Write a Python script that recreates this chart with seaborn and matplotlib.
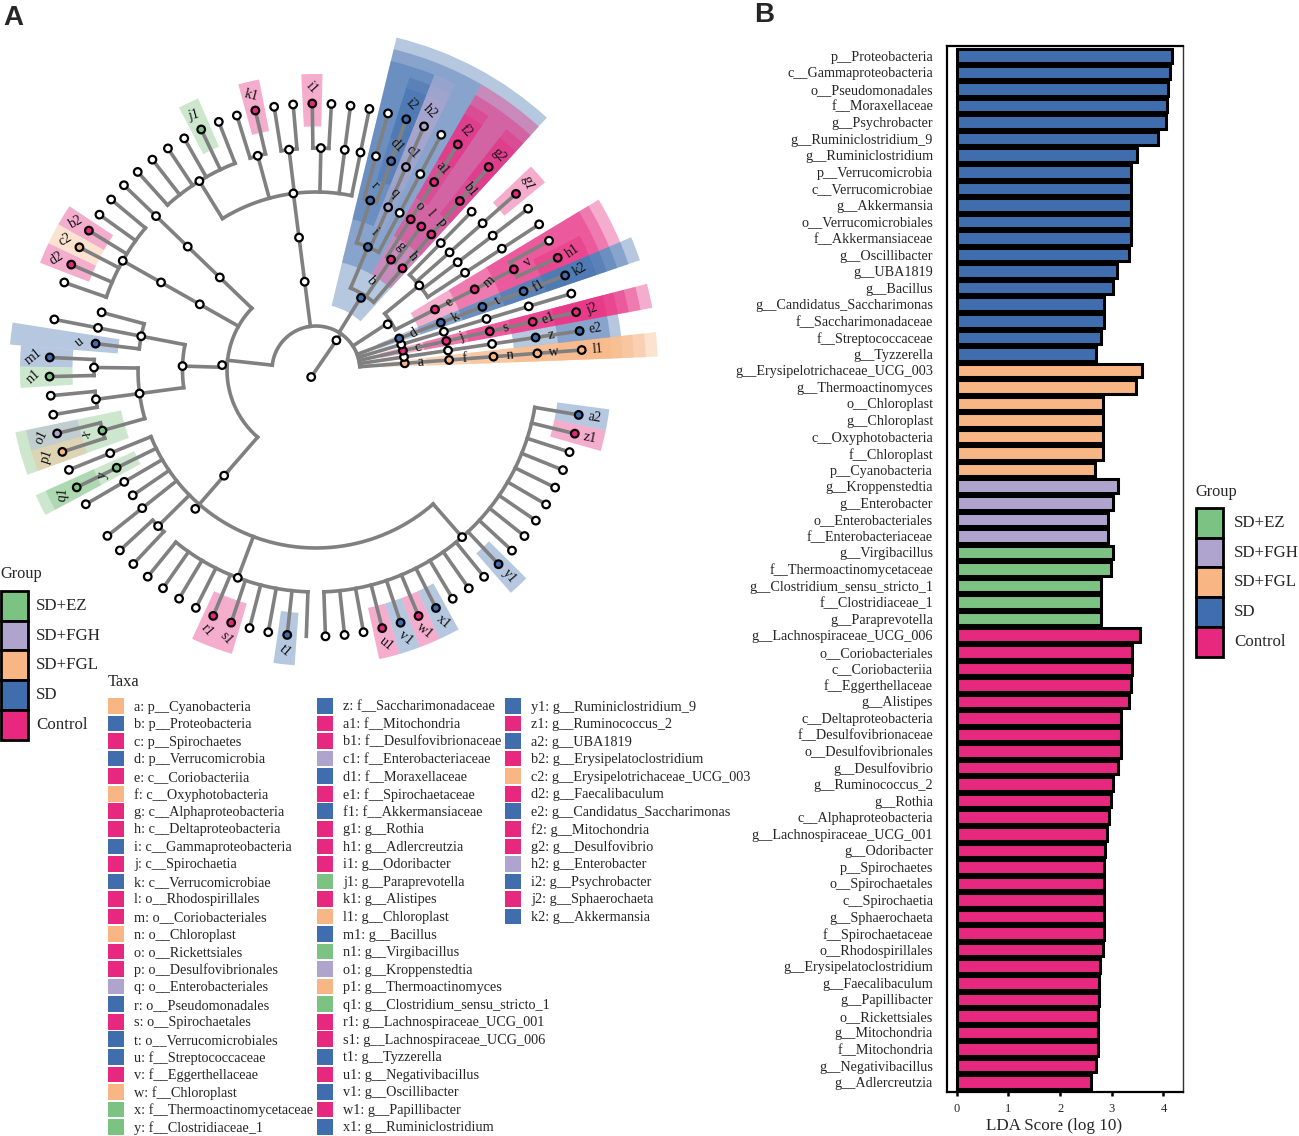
import numpy as np
import pandas as pd
import seaborn as sns
import matplotlib
matplotlib.use("Agg")
import matplotlib.pyplot as plt
from matplotlib.patches import Rectangle

sns.set_theme(style="white")
plt.rcParams["font.family"] = ["Liberation Serif", "DejaVu Serif"]

# groups
group_names = ["SD+EZ", "SD+FGH", "SD+FGL", "SD", "Control"]
group_colors = ["#7CC283", "#AFA4CE", "#F7B683", "#3F6DAE", "#E6287F"]
palette = dict(zip(group_names, group_colors))

# panel B
taxa_sd = ["p__Proteobacteria", "c__Gammaproteobacteria", "o__Pseudomonadales", "f__Moraxellaceae",
           "g__Psychrobacter", "g__Ruminiclostridium_9", "g__Ruminiclostridium", "p__Verrucomicrobia",
           "c__Verrucomicrobiae", "g__Akkermansia", "o__Verrucomicrobiales", "f__Akkermansiaceae",
           "g__Oscillibacter", "g__UBA1819", "g__Bacillus", "g__Candidatus_Saccharimonas",
           "f__Saccharimonadaceae", "f__Streptococcaceae", "g__Tyzzerella"]
scores_sd = [4.17, 4.13, 4.09, 4.07, 4.05, 3.90, 3.49, 3.37, 3.37, 3.37, 3.37, 3.37, 3.33, 3.10, 3.02,
             2.85, 2.85, 2.79, 2.69]
taxa_fgl = ["g__Erysipelotrichaceae_UCG_003", "g__Thermoactinomyces", "o__Chloroplast", "g__Chloroplast",
            "c__Oxyphotobacteria", "f__Chloroplast", "p__Cyanobacteria"]
scores_fgl = [3.58, 3.47, 2.83, 2.83, 2.83, 2.83, 2.67]
taxa_fgh = ["g__Kroppenstedtia", "g__Enterobacter", "o__Enterobacteriales", "f__Enterobacteriaceae"]
scores_fgh = [3.12, 3.03, 2.93, 2.92]
taxa_ez = ["g__Virgibacillus", "f__Thermoactinomycetaceae", "g__Clostridium_sensu_stricto_1",
           "f__Clostridiaceae_1", "g__Paraprevotella"]
scores_ez = [3.02, 2.98, 2.79, 2.79, 2.79]
taxa_ctrl = ["g__Lachnospiraceae_UCG_006", "o__Coriobacteriales", "c__Coriobacteriia", "f__Eggerthellaceae",
             "g__Alistipes", "c__Deltaproteobacteria", "f__Desulfovibrionaceae", "o__Desulfovibrionales",
             "g__Desulfovibrio", "g__Ruminococcus_2", "g__Rothia", "c__Alphaproteobacteria",
             "g__Lachnospiraceae_UCG_001", "g__Odoribacter", "p__Spirochaetes", "o__Spirochaetales",
             "c__Spirochaetia", "g__Sphaerochaeta", "f__Spirochaetaceae", "o__Rhodospirillales",
             "g__Erysipelatoclostridium", "g__Faecalibaculum", "g__Papillibacter", "o__Rickettsiales",
             "g__Mitochondria", "f__Mitochondria", "g__Negativibacillus", "g__Adlercreutzia"]
scores_ctrl = [3.54, 3.39, 3.39, 3.37, 3.34, 3.17, 3.17, 3.17, 3.12, 3.03, 2.99, 2.95, 2.91, 2.86, 2.85,
               2.85, 2.85, 2.85, 2.85, 2.84, 2.78, 2.76, 2.76, 2.74, 2.74, 2.74, 2.69, 2.59]

# panel A key
key_codes = ["a", "b", "c", "d", "e", "f", "g", "h", "i", "j", "k", "l", "m", "n", "o", "p", "q", "r", "s",
             "t", "u", "v", "w", "x", "y", "z", "a1", "b1", "c1", "d1", "e1", "f1", "g1", "h1", "i1", "j1",
             "k1", "l1", "m1", "n1", "o1", "p1", "q1", "r1", "s1", "t1", "u1", "v1", "w1", "x1", "y1", "z1",
             "a2", "b2", "c2", "d2", "e2", "f2", "g2", "h2", "i2", "j2", "k2"]
key_taxa = ["p__Cyanobacteria", "p__Proteobacteria", "p__Spirochaetes", "p__Verrucomicrobia", "c__Coriobacteriia",
            "c__Oxyphotobacteria", "c__Alphaproteobacteria", "c__Deltaproteobacteria", "c__Gammaproteobacteria",
            "c__Spirochaetia", "c__Verrucomicrobiae", "o__Rhodospirillales", "o__Coriobacteriales", "o__Chloroplast",
            "o__Rickettsiales", "o__Desulfovibrionales", "o__Enterobacteriales", "o__Pseudomonadales",
            "o__Spirochaetales", "o__Verrucomicrobiales", "f__Streptococcaceae", "f__Eggerthellaceae", "f__Chloroplast",
            "f__Thermoactinomycetaceae", "f__Clostridiaceae_1", "f__Saccharimonadaceae", "f__Mitochondria",
            "f__Desulfovibrionaceae", "f__Enterobacteriaceae", "f__Moraxellaceae", "f__Spirochaetaceae",
            "f__Akkermansiaceae", "g__Rothia", "g__Adlercreutzia", "g__Odoribacter", "g__Paraprevotella", "g__Alistipes",
            "g__Chloroplast", "g__Bacillus", "g__Virgibacillus", "g__Kroppenstedtia", "g__Thermoactinomyces",
            "g__Clostridium_sensu_stricto_1", "g__Lachnospiraceae_UCG_001", "g__Lachnospiraceae_UCG_006", "g__Tyzzerella",
            "g__Negativibacillus", "g__Oscillibacter", "g__Papillibacter", "g__Ruminiclostridium",
            "g__Ruminiclostridium_9", "g__Ruminococcus_2", "g__UBA1819", "g__Erysipelatoclostridium",
            "g__Erysipelotrichaceae_UCG_003", "g__Faecalibaculum", "g__Candidatus_Saccharimonas", "g__Mitochondria",
            "g__Desulfovibrio", "g__Enterobacter", "g__Psychrobacter", "g__Sphaerochaeta", "g__Akkermansia"]
key_groups = ["SD+FGL", "SD", "Control", "SD", "Control", "SD+FGL", "Control", "Control", "SD", "Control", "SD",
              "Control", "Control", "SD+FGL", "Control", "Control", "SD+FGH", "SD", "Control", "SD", "SD", "Control",
              "SD+FGL", "SD+EZ", "SD+EZ", "SD", "Control", "Control", "SD+FGH", "SD", "Control", "SD", "Control",
              "Control", "Control", "SD+EZ", "Control", "SD+FGL", "SD", "SD+EZ", "SD+FGH", "SD+FGL", "SD+EZ", "Control",
              "Control", "SD", "Control", "SD", "Control", "SD", "SD", "Control", "SD", "Control", "SD+FGL", "Control",
              "SD", "Control", "Control", "SD+FGH", "SD", "Control", "SD"]
code_group = dict(zip(key_codes, key_groups))


# tree: (label, children), "" = no label, "-" = tip drawn without a dot, "_x" = unlabelled node with a fix below
def chain(*labels):
    node = (labels[-1], [])
    for lab in reversed(labels[:-1]):
        node = (lab, [node])
    return node


def tips(*labels):
    return [(lab, []) for lab in labels]


phylum_a = chain("a", "f", "n", "w", "l1")
phylum_sacch = chain("", "", "", "z", "e2")
phylum_c = chain("c", "j", "s", "e1", "j2")
phylum_plain = chain("", "", "", "", "")
phylum_d = chain("d", "k", "t", "f1", "k2")
phylum_actino = ("_pa", [
    ("e", [("m", [("v", tips("h1", ""))])]),
    ("", [chain("", "", ""), chain("", "", ""), chain("", "", "g1"), chain("", "")]),
])
phylum_b = ("b", [
    chain("h", "p", "b1", "g2"),
    ("g", [chain("l"), chain("o", "a1", "f2")]),
    ("i", [chain("", "", ""), chain("q", "c1", "h2"),
           ("r", [chain("d1", "i2"), chain("", "")])]),
])
phylum_top = ("_p8", [("_c8", [("_o8", [
    chain("", ""), chain("", ""), ("", tips("", "i1")), ("", tips("", "")), ("", tips("k1", "")),
    ("", tips("", "j1", "", "", "", "")),
])])])
phylum_big = ("_p9", [
    chain("", "", "", ""),
    ("", [("", [("", tips("", "", "b2", "c2", "d2", ""))])]),
    ("", [
        ("", [chain(""), chain("", ""), chain("u")]),
        ("", [("", tips("m1", "n1")), ("", tips("", "")), ("x", tips("o1", "p1"))]),
    ]),
    ("_c9", [("_o9", [
        chain("", ""), chain("y", "q1"), chain("", ""), chain(""), chain("", ""),
        ("", tips("", "")),
        ("", tips("", "", "", "", "r1", "s1", "", "", "t1", "-")),
        ("", tips("", "", "", "u1", "v1", "w1", "x1", "", "", "", "y1", "", "", "", "", "", "", "", "z1", "a2")),
    ])]),
])
phyla = [phylum_a, phylum_sacch, phylum_c, phylum_plain, phylum_d, phylum_actino, phylum_b, phylum_top, phylum_big]

# layout of the cladogram (pixels around the centre, degrees)
center_x, center_y = 316, 370
R_MAX = 360
level_r = {1: 44, 2: 89, 3: 133.5, 4: 178, 5: 222, 6: 266.5}
shade_out = {2: 342, 3: 330, 4: 318, 5: 307, 6: 296}
first_tip = 4.3
tip_step = 4.119
stem_angle = 55.5
angle_fix = {"_p8": 97.3, "_c8": 97.3, "_o8": 97.3, "_p9": 173.7, "_c9": 229, "_o9": 229}
dot_fix = {"_p9": (177, 94), "_c9": (229, 140), "_o9": (229, 184), "_pa": (32.5, 85), "b": (58, 85)}

nodes = []
tip_count = 0


def place(node, level):
    global tip_count
    label, kids = node
    rec = {"label": label, "level": level, "kids": []}
    nodes.append(rec)
    if not kids:
        rec["angle"] = first_tip + tip_step * tip_count
        rec["lo"] = rec["hi"] = rec["angle"]
        tip_count += 1
        return rec
    rec["kids"] = [place(k, level + 1) for k in kids]
    rec["angle"] = (rec["kids"][0]["angle"] + rec["kids"][-1]["angle"]) / 2
    rec["angle"] = angle_fix.get(label, rec["angle"])
    rec["lo"] = rec["kids"][0]["lo"]
    rec["hi"] = rec["kids"][-1]["hi"]
    return rec


tops = [place(p, 2) for p in phyla]

fig = plt.figure(figsize=(12.99, 11.36), dpi=100, facecolor="white")

ax = fig.add_axes([(center_x - R_MAX) / 1299, 1 - (center_y + R_MAX) / 1136, 2 * R_MAX / 1299, 2 * R_MAX / 1136],
                  projection="polar")
ax.patch.set_alpha(0)

# shaded clades
for rec in nodes:
    group = code_group.get(rec["label"])
    if group is None:
        continue
    inner = level_r[rec["level"]] - 23
    outer = shade_out[rec["level"]]
    mid = (rec["lo"] + rec["hi"]) / 2
    ax.bar(np.radians(mid), outer - inner, width=np.radians(rec["hi"] - rec["lo"] + tip_step), bottom=inner,
           color=palette[group], alpha=0.38, linewidth=0, zorder=1)

# branches
line_kw = dict(color="#808080", lw=2.6, solid_capstyle="projecting", zorder=2)


def draw_arc(a0, a1, r):
    th = np.radians(np.linspace(a0, a1, 200))
    ax.plot(th, np.full_like(th, r), **line_kw)


def draw_stem(angle, r0, r1):
    ax.plot(np.radians([angle, angle]), [r0, r1], **line_kw)


for rec in nodes:
    if not rec["kids"]:
        continue
    r = level_r[rec["level"]]
    draw_arc(rec["kids"][0]["angle"], rec["kids"][-1]["angle"], r)
    for kid in rec["kids"]:
        draw_stem(kid["angle"], r, level_r[kid["level"]])

draw_arc(tops[0]["angle"], tops[-1]["angle"], level_r[1])
for top in tops:
    draw_stem(top["angle"], level_r[1], level_r[2])
ax.plot(np.radians([stem_angle + 180, stem_angle]), [8.5, level_r[1]], **line_kw)

# node dots
dot_theta = [np.radians(stem_angle + 180), np.radians(stem_angle)]
dot_r = [8.5, 36]
dot_group = ["none", "none"]
for rec in nodes:
    if rec["label"] == "-":
        continue
    a, r = dot_fix.get(rec["label"], (rec["angle"], level_r[rec["level"]]))
    dot_theta.append(np.radians(a))
    dot_r.append(r)
    dot_group.append(code_group.get(rec["label"], "none"))
sns.scatterplot(x=dot_theta, y=dot_r, hue=dot_group, palette={**palette, "none": "white"}, s=30,
                edgecolor="black", linewidth=1.6, legend=False, ax=ax, zorder=3, clip_on=False)

# clade labels
rot_at = [0, 8, 14, 25, 35, 41, 49, 66, 90, 103, 115, 150, 180, 197, 206, 247, 264, 296, 313, 346, 360]
rot_deg = [0, 8, 25, 35, 70, 105, 130, 135, 130, 165, 195, 210, 220, 250, 265, 310, 320, 320, 310, 348, 360]
for rec in nodes:
    if rec["label"] not in code_group:
        continue
    rot = (np.interp(rec["angle"], rot_at, rot_deg) + 90) % 180 - 90
    ax.text(np.radians(rec["angle"]), level_r[rec["level"]] + 16, rec["label"], rotation=rot, ha="center",
            va="center", rotation_mode="anchor", fontsize=10, color="#111111", zorder=4)

ax.set_rlim(0, R_MAX)
ax.axis("off")

# panel B
bar_taxa = taxa_sd + taxa_fgl + taxa_fgh + taxa_ez + taxa_ctrl
bar_scores = scores_sd + scores_fgl + scores_fgh + scores_ez + scores_ctrl
bar_groups = (["SD"] * len(taxa_sd) + ["SD+FGL"] * len(taxa_fgl) + ["SD+FGH"] * len(taxa_fgh)
              + ["SD+EZ"] * len(taxa_ez) + ["Control"] * len(taxa_ctrl))
bar_df = pd.DataFrame({"taxon": bar_taxa, "score": bar_scores, "group": bar_groups})

axb = fig.add_axes([947 / 1299, 1 - 1092 / 1136, (1183 - 947) / 1299, (1092 - 46) / 1136])
sns.barplot(data=bar_df, y="taxon", x="score", hue="group", palette=palette, dodge=False, width=0.82,
            saturation=1, edgecolor="black", linewidth=2.2, legend=False, ax=axb)
axb.set_xlim(-0.19, 4.38)
axb.set_ylim(len(bar_taxa) - 0.4, -0.6)
axb.set_xticks([0, 1, 2, 3, 4])
axb.set_ylabel("")
axb.set_xlabel("LDA Score (log 10)", fontsize=12.3, va="center")
axb.xaxis.set_label_coords(0.453, -0.0325)
axb.tick_params(axis="y", length=3, width=1.8, color="black", labelsize=10.2, pad=7)
axb.tick_params(axis="x", length=3, width=1.8, color="black", labelsize=9, pad=5, bottom=True)
for side in ["left", "top", "bottom"]:
    axb.spines[side].set_color("black")
    axb.spines[side].set_linewidth(1.6)
axb.spines["right"].set_color("#333333")
axb.spines["right"].set_linewidth(1.0)

# legends and panel letters on a pixel grid
ov = fig.add_axes([0, 0, 1, 1])
ov.set_xlim(0, 1299)
ov.set_ylim(1136, 0)
ov.axis("off")
ov.patch.set_alpha(0)


def group_legend(x, y, title_x, title_y, text_x):
    ov.text(title_x, title_y, "Group", fontsize=11.8, va="center", ha="left")
    for i, name in enumerate(group_names):
        ov.add_patch(Rectangle((x, y + i * 29.7), 27, 29.7, facecolor=palette[name], edgecolor="black", lw=2.0))
        ov.text(text_x, y + (i + 0.5) * 29.7, name, fontsize=12.2, va="center", ha="left")


group_legend(1.5, 591, 0, 574, 36)
group_legend(1196, 508, 1195, 492, 1234)

ov.text(108, 682, "Taxa", fontsize=11.8, va="center", ha="left")
key_cols = [(108, 0, 25), (317, 25, 50), (505, 50, 63)]
for col_x, start, stop in key_cols:
    for row, i in enumerate(range(start, stop)):
        y = 706 + row * 17.54
        ov.add_patch(Rectangle((col_x, y - 7.8), 16, 15.6, facecolor=palette[key_groups[i]], edgecolor="none"))
        ov.text(col_x + 26, y + 1, key_codes[i] + ": " + key_taxa[i], fontsize=10.25, va="center", ha="left")

ov.text(3, 18, "A", fontsize=20, fontweight="bold", family="Liberation Sans", va="center", ha="left")
ov.text(754, 15, "B", fontsize=20, fontweight="bold", family="Liberation Sans", va="center", ha="left")

fig.savefig("out.png", dpi=100)
